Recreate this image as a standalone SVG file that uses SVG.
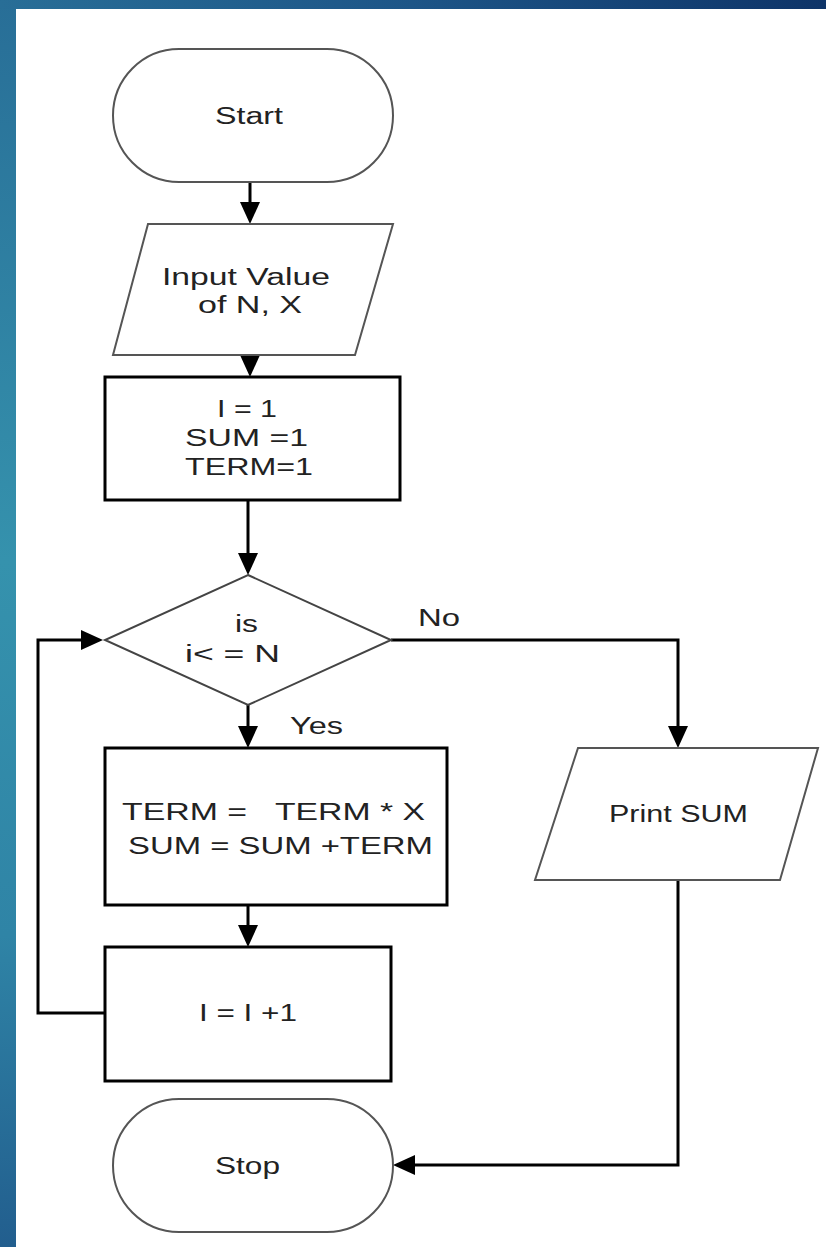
<svg xmlns="http://www.w3.org/2000/svg" width="826" height="1247" viewBox="0 0 826 1247">
  <defs>
    <linearGradient id="sideGrad" x1="0" y1="0" x2="0" y2="1">
      <stop offset="0" stop-color="#286e97"/>
      <stop offset="0.45" stop-color="#3592ad"/>
      <stop offset="0.75" stop-color="#2f84a6"/>
      <stop offset="1" stop-color="#225e8e"/>
    </linearGradient>
    <linearGradient id="topGrad" x1="0" y1="0" x2="1" y2="0">
      <stop offset="0" stop-color="#286e97"/>
      <stop offset="0.5" stop-color="#1d5587"/>
      <stop offset="1" stop-color="#0e3468"/>
    </linearGradient>
    <marker id="arrow" markerUnits="userSpaceOnUse" markerWidth="22" markerHeight="20" refX="12" refY="10" orient="auto">
      <path d="M0,0 L22,10 L0,20 Z" fill="#000"/>
    </marker>
    <style>
      .term { fill: #fff; stroke: #555; stroke-width: 2; }
      .io { fill: #fff; stroke: #555; stroke-width: 2; }
      .proc { fill: #fff; stroke: #000; stroke-width: 3; }
      .dec { fill: #fff; stroke: #444; stroke-width: 2; }
      .conn { fill: none; stroke: #000; stroke-width: 3; marker-end: url(#arrow); }
      text { font-family: "Liberation Sans", Arial, sans-serif; font-size: 23px; fill: #222; }
    </style>
  </defs>

  <!-- frame -->
  <rect x="0" y="0" width="826" height="1247" fill="url(#sideGrad)"/>
  <rect x="0" y="0" width="826" height="9" fill="url(#topGrad)"/>
  <rect x="16" y="9" width="810" height="1238" fill="#fff"/>

  <!-- connectors -->
  <g id="connectors">
    <path class="conn" d="M250,182 V214"/>
    <path class="conn" d="M250,355 V367" style="stroke:#888"/>
    <path class="conn" d="M248,500 V565"/>
    <path class="conn" d="M248,705 V738"/>
    <path class="conn" d="M248,881 V937"/>
    <path class="conn" d="M105,1013 H38 V640 H93"/>
    <path class="conn" d="M391,640 H678 V738"/>
    <path class="conn" d="M678,880 V1165 H403"/>
    <text x="418" y="626" textLength="42" lengthAdjust="spacingAndGlyphs">No</text>
    <text x="290" y="734" textLength="53" lengthAdjust="spacingAndGlyphs">Yes</text>
  </g>

  <g id="start">
    <rect class="term" x="113" y="49" width="280" height="133" rx="66" ry="66.5"/>
    <text x="215" y="124" textLength="68" lengthAdjust="spacingAndGlyphs">Start</text>
  </g>

  <g id="input">
    <polygon class="io" points="148,224 393,224 355,355 113,355"/>
    <text x="162" y="285" textLength="168" lengthAdjust="spacingAndGlyphs">Input Value</text>
    <text x="198" y="313" textLength="104" lengthAdjust="spacingAndGlyphs">of N, X</text>
  </g>

  <g id="init">
    <rect class="proc" x="105" y="377" width="295" height="123"/>
    <text x="217" y="417" textLength="60" lengthAdjust="spacingAndGlyphs">I = 1</text>
    <text x="185" y="446" textLength="123" lengthAdjust="spacingAndGlyphs">SUM =1</text>
    <text x="185" y="475" textLength="128" lengthAdjust="spacingAndGlyphs">TERM=1</text>
  </g>

  <g id="decision">
    <polygon class="dec" points="248,575 391,640 248,705 105,640"/>
    <text x="235" y="632" textLength="23" lengthAdjust="spacingAndGlyphs">is</text>
    <text x="185" y="662" textLength="95" lengthAdjust="spacingAndGlyphs">i&lt; = N</text>
  </g>

  <g id="update">
    <rect class="proc" x="105" y="748" width="342" height="157"/>
    <text y="820"><tspan x="122" textLength="125" lengthAdjust="spacingAndGlyphs">TERM =</tspan><tspan x="275" textLength="150" lengthAdjust="spacingAndGlyphs">TERM * X</tspan></text>
    <text x="128" y="854" textLength="305" lengthAdjust="spacingAndGlyphs">SUM = SUM +TERM</text>
  </g>

  <g id="increment">
    <rect class="proc" x="105" y="947" width="286" height="134"/>
    <text x="199" y="1021" textLength="98" lengthAdjust="spacingAndGlyphs">I = I +1</text>
  </g>

  <g id="output">
    <polygon class="io" points="578,748 818,748 780,880 535,880"/>
    <text x="609" y="822" textLength="139" lengthAdjust="spacingAndGlyphs">Print SUM</text>
  </g>

  <g id="stop">
    <rect class="term" x="113" y="1099" width="280" height="133" rx="66" ry="66.5"/>
    <text x="215" y="1174" textLength="65" lengthAdjust="spacingAndGlyphs">Stop</text>
  </g>
</svg>
